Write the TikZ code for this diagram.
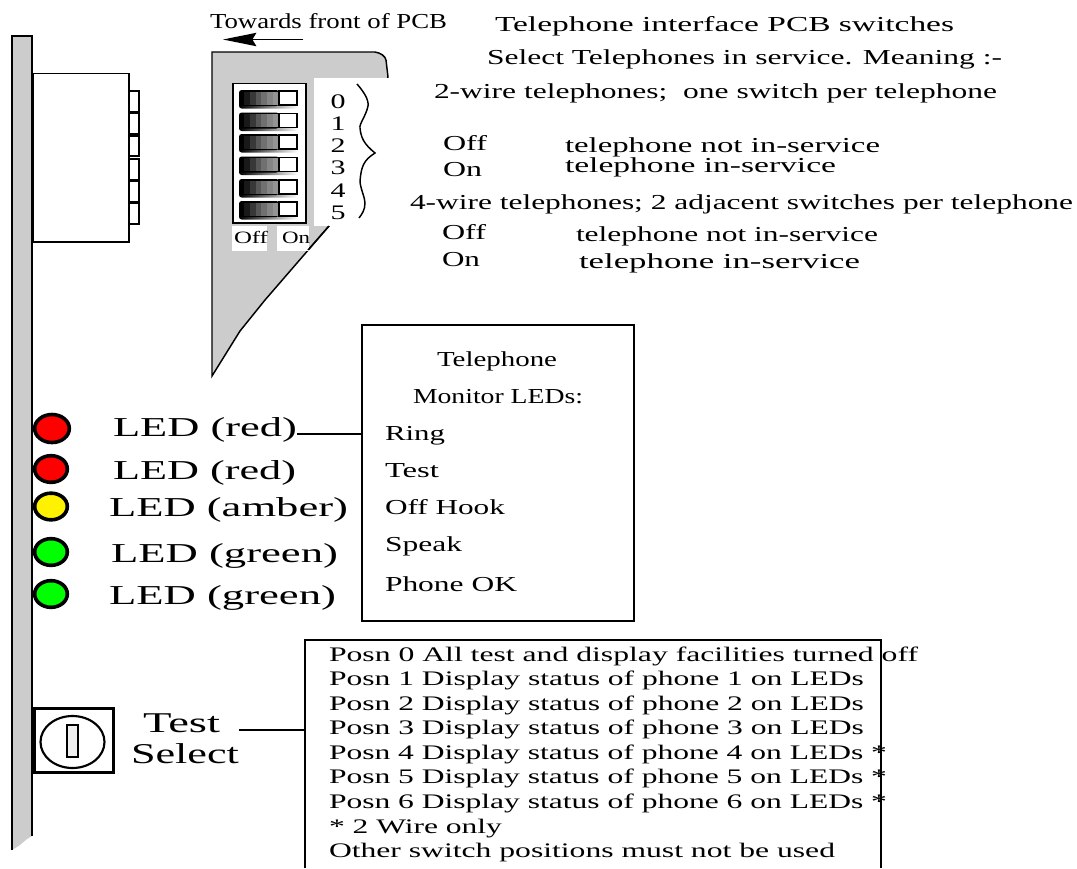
\documentclass[tikz,border=0pt]{standalone}
\usepackage{fontspec}
\setmainfont{Liberation Serif}
\usetikzlibrary{arrows.meta,shapes.geometric}
\definecolor{panelgrey}{RGB}{204,204,204}
\newlength\wlen
\newcommand\wtxt[2]{\setlength\wlen{#1pt}\setlength\wlen{0.75\wlen}\resizebox{\wlen}{\height}{#2}}
\tikzset{
  x=0.75pt,y=-0.75pt,
  ln/.style={draw=black,line width=1.1pt},
  lbl/.style={anchor=base west,inner sep=0pt,outer sep=0pt,text=black,yshift=-0.75pt},
  bigt/.style={lbl,font=\fontsize{20.5}{22}\selectfont},
  medt/.style={lbl,font=\fontsize{16}{18}\selectfont},
  smt/.style={lbl,font=\fontsize{15.5}{17}\selectfont},
  digt/.style={lbl,anchor=base,font=\fontsize{15.5}{18}\selectfont},
  tinyt/.style={lbl,font=\fontsize{13}{15}\selectfont},
  led/.style={draw=black,line width=2.7pt,ellipse,inner sep=0pt,minimum width=24.5pt,minimum height=20pt},
  key/.style={ln,fill=white,line width=.9pt},
  infobox/.style={draw=black,line width=.9pt,inner sep=0pt,outer sep=0pt,fill=white},
}
\begin{document}
\begin{tikzpicture}
\useasboundingbox (0,0) rectangle (1077,868);
% panel
\fill[panelgrey] (12,36) -- (32,36) -- (32,836) -- (27,839) -- (20,845) -- (12,850) -- cycle;
\draw[ln] (12,850) -- (12,36) -- (32,36) -- (32,836);
% connector body
\draw[key] (33,73.5) rectangle (129,242);
\foreach \a/\b in {91/112,113.5/134,136/156,159/180,181/202,203.5/224}
  \draw[key] (129,\a) rectangle (139,\b);
% PCB
\draw[ln,fill=panelgrey] (212,376) -- (212,52) -- (375,52) .. controls (381,53) and (385,56) .. (386,60) -- (388,77) -- (329,226) -- (265,300) -- (240,331) -- cycle;
\fill[white] (314,77.5) rectangle (389,226);
\fill[white] (232,226) rectangle (267,251);
\fill[white] (277,226) rectangle (309,251);
\draw[ln] (329,226) -- (308,250);
% switch block
\draw[ln,fill=white,line width=1.4pt] (233,83.5) rectangle (306,223);
\foreach \a in {90,112.5,134,156.5,179,201}{
  \shade[left color=black,right color=white,rounded corners=2pt] (239,\a+12) rectangle (298,\a+18.5);
  \fill[black,rounded corners=2pt] (239,\a) rectangle (279,\a+16);
  \foreach \i/\c in {0/90,1/78,2/66,3/56,4/48,5/42}
    \fill[black!\c!white] (244+\i*5.8,\a+1.5) rectangle (249.8+\i*5.8,\a+14.5);
  \fill[white,draw=black,line width=1.1pt] (279,\a+1) rectangle (297,\a+15);
}
% digits and labels
\foreach \t/\yy [count=\n] in {0/107,1/129,2/151,3/173,4/196,5/218}
  \node[digt] (dig\n) at (338,\yy) {\wtxt{15}{\t}};
\draw[ln] (357,84) .. controls (364,92) and (369,100) .. (368,106) .. controls (366,116) and (359,124) .. (360,128) .. controls (361,138) and (364,144) .. (375,153) .. controls (364,160) and (361,166) .. (360,182) .. controls (361,190) and (365,198) .. (365,203) .. controls (365,210) and (362,214) .. (359,218);
\node[tinyt] (off) at (234,242) {\wtxt{34}{Off}};
\node[tinyt] (on) at (282,242) {\wtxt{28}{On}};
% arrow
\coordinate (arra) at (303,39.5);
\coordinate (arrb) at (223,39.5);
\draw[ln,-{Stealth[length=25pt,width=10pt,inset=3pt]}] (arra) -- (arrb);
% top text
\node[medt] (t1) at (210,27) {\wtxt{237}{Towards front of PCB}};
\node[medt] (t2) at (495,30) {\wtxt{459}{Telephone interface PCB switches}};
\node[medt] (t3) at (487,63) {\wtxt{515}{Select Telephones in service. Meaning :-}};
\node[medt] (t4) at (434,97) {\wtxt{563}{2-wire telephones;\ \ one switch per telephone}};
\node[medt] (t5) at (443,149) {\wtxt{44}{Off}};
\node[medt] (t6) at (565,151) {\wtxt{315}{telephone not in-service}};
\node[medt] (t7) at (443,175) {\wtxt{39}{On}};
\node[medt] (t8) at (565,171) {\wtxt{271}{telephone in-service}};
\node[medt] (t9) at (410,208) {\wtxt{663}{4-wire telephones; 2 adjacent switches per telephone}};
\node[medt] (t10) at (442,238) {\wtxt{44}{Off}};
\node[medt] (t11) at (576,240) {\wtxt{302}{telephone not in-service}};
\node[medt] (t12) at (442,265) {\wtxt{38}{On}};
\node[medt] (t13) at (579,267) {\wtxt{281}{telephone in-service}};
% LEDs
\node[led,fill=red,minimum width=26pt,minimum height=21pt] (led1) at (52,428.5) {};
\node[led,fill=red] (led2) at (51,469) {};
\node[led,fill=yellow] (led3) at (51,506.5) {};
\node[led,fill=green] (led4) at (51,552) {};
\node[led,fill=green] (led5) at (51,594) {};
\node[bigt] (l1) at (113,435) {\wtxt{184}{LED (red)}};
\node[bigt] (l2) at (113,478) {\wtxt{183}{LED (red)}};
\node[bigt] (l3) at (109,515) {\wtxt{239}{LED (amber)}};
\node[bigt] (l4) at (111,561) {\wtxt{227}{LED (green)}};
\node[bigt] (l5) at (109,603) {\wtxt{227}{LED (green)}};
% monitor box
\node[infobox,anchor=north west,minimum width=204pt,minimum height=222pt] (mon) at (362,325) {};
\node[medt] (m1) at (437,365) {\wtxt{120}{Telephone}};
\node[medt] (m2) at (413,402) {\wtxt{170}{Monitor LEDs:}};
\node[medt] (m3) at (385,439) {\wtxt{60}{Ring}};
\node[medt] (m4) at (385,476) {\wtxt{54}{Test}};
\node[medt] (m5) at (385,513) {\wtxt{120}{Off Hook}};
\node[medt] (m6) at (385,550) {\wtxt{77}{Speak}};
\node[medt] (m7) at (385,590) {\wtxt{132}{Phone OK}};
\coordinate (cl) at (297,434);
\draw[ln] (cl) -- (cl -| mon.west);
% test select
\draw[black,line width=2.5pt,fill=white] (34.5,708.5) rectangle (113.5,772.5);
\draw[black,line width=1.6pt] (72.5,742) ellipse [x radius=32,y radius=26];
\draw[black,line width=.9pt,fill=panelgrey!30] (67,725) rectangle (78,757);
\node[bigt,font=\fontsize{21.5}{23}\selectfont] (s1) at (143,731) {\wtxt{77}{Test}};
\node[bigt,font=\fontsize{21.5}{23}\selectfont] (s2) at (131,762) {\wtxt{108}{Select}};
% positions box
\fill[white] (305,640) rectangle (881,868);
\draw[black,line width=.9pt] (305,868) -- (305,640) -- (881,640) -- (881,868);
\coordinate (sl) at (239,730);
\coordinate (sr) at (305,730);
\draw[ln,line width=.8pt] (sl) -- (sr);
\foreach \tx/\yy/\ww [count=\n] in {Posn 0 All test and display facilities turned off/660/589,
  Posn 1 Display status of phone 1 on LEDs/684.5/535,
  Posn 2 Display status of phone 2 on LEDs/709/535,
  Posn 3 Display status of phone 3 on LEDs/733.5/535,
  Posn 4 Display status of phone 4 on LEDs */758/558,
  Posn 5 Display status of phone 5 on LEDs */782.5/558,
  Posn 6 Display status of phone 6 on LEDs */807/558,
  * 2 Wire only/832/173,
  Other switch positions must not be used/856/506}
  \node[smt] (p\n) at (329,\yy) {\wtxt{\ww}{\tx}};
\end{tikzpicture}
\end{document}
